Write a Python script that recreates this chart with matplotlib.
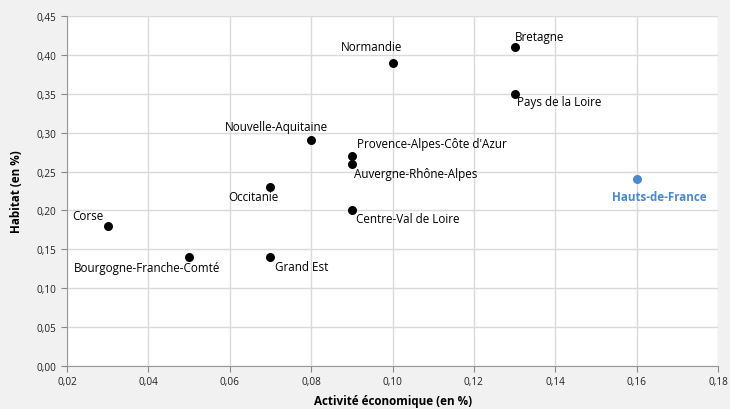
import matplotlib
matplotlib.use("Agg")
import matplotlib.pyplot as plt

plt.rcParams['font.family'] = ['Open Sans', 'DejaVu Sans']

# data
regions = ["Corse", "Bourgogne-Franche-Comté", "Grand Est", "Occitanie",
           "Nouvelle-Aquitaine", "Provence-Alpes-Côte d'Azur",
           "Auvergne-Rhône-Alpes", "Centre-Val de Loire", "Normandie",
           "Bretagne", "Pays de la Loire", "Hauts-de-France"]
activite = [0.03, 0.05, 0.07, 0.07, 0.08, 0.09, 0.09, 0.09, 0.10, 0.13, 0.13, 0.16]
habitat = [0.18, 0.14, 0.14, 0.23, 0.29, 0.27, 0.26, 0.20, 0.39, 0.41, 0.35, 0.24]
highlight = "Hauts-de-France"

x_ticks = [0.02, 0.04, 0.06, 0.08, 0.10, 0.12, 0.14, 0.16, 0.18]
y_ticks = [0.00, 0.05, 0.10, 0.15, 0.20, 0.25, 0.30, 0.35, 0.40, 0.45]

# label placement: (dx, dy) in pixels, horizontal alignment
label_pos = {
    "Corse": (-4, 10, 'right'),
    "Bourgogne-Franche-Comté": (-42, -10, 'center'),
    "Grand Est": (5, -9, 'left'),
    "Occitanie": (-17, -9, 'center'),
    "Nouvelle-Aquitaine": (-35, 14, 'center'),
    "Provence-Alpes-Côte d'Azur": (5, 12, 'left'),
    "Auvergne-Rhône-Alpes": (2, -10, 'left'),
    "Centre-Val de Loire": (4, -8, 'left'),
    "Normandie": (-21, 16, 'center'),
    "Bretagne": (0, 11, 'left'),
    "Pays de la Loire": (2, -8, 'left'),
    "Hauts-de-France": (23, -17, 'center'),
}

blue = '#4a89cc'
bg = '#f0f1f0'

fig = plt.figure(figsize=(7.3, 4.1), dpi=100, facecolor=bg)
ax = fig.add_axes([67/730, 43/410, 651/730, 350/410])
ax.set_facecolor('white')

for name, xv, yv in zip(regions, activite, habitat):
    col = blue if name == highlight else 'black'
    ax.scatter([xv], [yv], s=42, color=col, zorder=3, linewidths=0)
    dx, dy, ha = label_pos[name]
    ax.annotate(name, (xv, yv), xytext=(dx, dy), textcoords='offset pixels',
                ha=ha, va='center', fontsize=8.4, color=col,
                fontweight='bold' if name == highlight else 'normal')

ax.set_xlim(0.02, 0.18)
ax.set_ylim(0, 0.45)
ax.set_xticks(x_ticks)
ax.set_yticks(y_ticks)
ax.set_xticklabels([f"{v:.2f}".replace('.', ',') for v in x_ticks])
ax.set_yticklabels([f"{v:.2f}".replace('.', ',') for v in y_ticks])
ax.tick_params(labelsize=7.2, color='#888888', length=4, width=0.8, labelcolor='#222222')
ax.grid(True, color='#dadada', linewidth=1)
ax.set_axisbelow(True)
for s in ['top', 'right']:
    ax.spines[s].set_visible(False)
for s in ['left', 'bottom']:
    ax.spines[s].set_color('#999999')

fig.text(393/730, 8/410, "Activité économique (en %)", ha='center', va='center',
         fontsize=8.4, fontweight='bold')
ax.set_ylabel("Habitat (en %)", fontsize=8.4, fontweight='bold', labelpad=10)

fig.savefig("out.png", dpi=100, facecolor=bg)
